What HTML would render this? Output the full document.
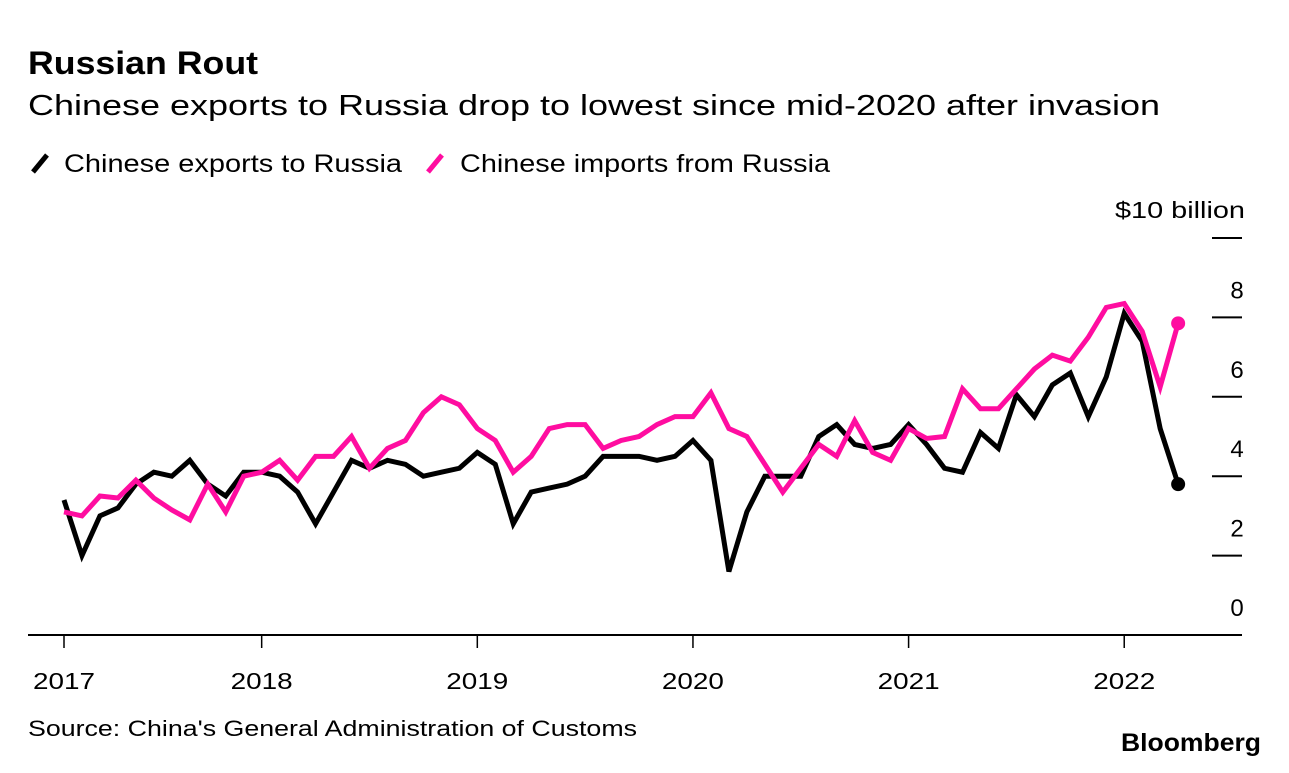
<!DOCTYPE html>
<html><head><meta charset="utf-8">
<style>
body{margin:0;background:#fff;width:1289px;height:768px;overflow:hidden;font-family:"Liberation Sans",Arial,sans-serif;}
svg text{font-family:"Liberation Sans",Arial,sans-serif;}
</style></head>
<body>
<svg width="1289" height="768">
<text x="28" y="74" font-size="32" font-weight="bold" fill="#000" textLength="230" lengthAdjust="spacingAndGlyphs">Russian Rout</text>
<text x="28" y="115" font-size="29" fill="#000" textLength="1132" lengthAdjust="spacingAndGlyphs">Chinese exports to Russia drop to lowest since mid-2020 after invasion</text>
<g>
<line x1="33" y1="172" x2="47" y2="155" stroke="#000" stroke-width="5"/>
<text x="64" y="172" font-size="25" textLength="338" lengthAdjust="spacingAndGlyphs">Chinese exports to Russia</text>
</g>
<g>
<line x1="428" y1="172" x2="442" y2="155" stroke="#ff0da0" stroke-width="5"/>
<text x="460" y="172" font-size="25" textLength="370" lengthAdjust="spacingAndGlyphs">Chinese imports from Russia</text>
</g>
<text x="1115" y="218" font-size="23" textLength="130" lengthAdjust="spacingAndGlyphs">$10 billion</text>
<g id="axes"></g>
<g id="series"></g>
<text x="28" y="736" font-size="22" textLength="609" lengthAdjust="spacingAndGlyphs">Source: China's General Administration of Customs</text>
<text x="1121" y="751" font-size="25" font-weight="bold" textLength="140" lengthAdjust="spacingAndGlyphs">Bloomberg</text>
</svg>
<script>
const yTicks=[0,2,4,6,8,10];
const xTickLabels=["2017","2018","2019","2020","2021","2022"];
const xTickIndex=[0,11,23,35,47,59];
const exportsVals=[3.4,2.0,3.0,3.2,3.8,4.1,4.0,4.4,3.8,3.5,4.1,4.1,4.0,3.6,2.8,3.6,4.4,4.2,4.4,4.3,4.0,4.1,4.2,4.6,4.3,2.8,3.6,3.7,3.8,4.0,4.5,4.5,4.5,4.4,4.5,4.9,4.4,1.6,3.1,4.0,4.0,4.0,5.0,5.3,4.8,4.7,4.8,5.3,4.8,4.2,4.1,5.1,4.7,6.05,5.5,6.3,6.6,5.5,6.5,8.1,7.4,5.2,3.8];
const importsVals=[3.1,3.0,3.5,3.45,3.9,3.45,3.15,2.9,3.8,3.1,4.0,4.1,4.4,3.9,4.5,4.5,5.0,4.2,4.7,4.9,5.6,6.0,5.8,5.2,4.9,4.1,4.5,5.2,5.3,5.3,4.7,4.9,5.0,5.3,5.5,5.5,6.1,5.2,5.0,4.3,3.6,4.2,4.8,4.5,5.4,4.6,4.4,5.2,4.95,5.0,6.2,5.7,5.7,6.2,6.7,7.05,6.9,7.5,8.25,8.35,7.65,6.25,7.85];
const NS="http://www.w3.org/2000/svg";
const x=i=>64+i*17.97;
const y=v=>635-v*39.7;
const axes=document.getElementById('axes'), ser=document.getElementById('series');
function mk(tag,attrs,parent){const e=document.createElementNS(NS,tag);for(const k in attrs)e.setAttribute(k,attrs[k]);parent.appendChild(e);return e;}
const base=mk('line',{x1:28,x2:1242,y1:635,y2:635,stroke:'#000','stroke-width':2},axes);


yTicks.forEach(v=>{
  if(v>0){const t=mk('line',{x1:1212,x2:1242,y1:y(v),y2:y(v),stroke:'#000','stroke-width':2},axes);
  
  }
  if(v<10){
  const l=mk('text',{x:1237,y:y(v)-19,'font-size':24,'text-anchor':'middle'},axes);
  l.textContent=v;
  
  }
});
xTickLabels.forEach((lab,k)=>{
  const xx=x(xTickIndex[k]);
  const t=mk('line',{x1:xx,x2:xx,y1:635,y2:648,stroke:'#000','stroke-width':1.5},axes);
  
  
  const l=mk('text',{x:xx-31,y:689,'font-size':23,textLength:62,lengthAdjust:'spacingAndGlyphs'},axes);
  l.textContent=lab;
  
  
});
function line(vals,color,name){
  const p=mk('polyline',{points:vals.map((v,i)=>x(i)+','+y(v)).join(' '),fill:'none',stroke:color,'stroke-width':5,'stroke-linejoin':'miter'},ser);
  
  
  const n=vals.length-1;
  const c=mk('circle',{cx:x(n),cy:y(vals[n]),r:7,fill:color},ser);
  
  
}
line(exportsVals,'#000','exports');
line(importsVals,'#ff0da0','imports');
</script>
</body></html>
